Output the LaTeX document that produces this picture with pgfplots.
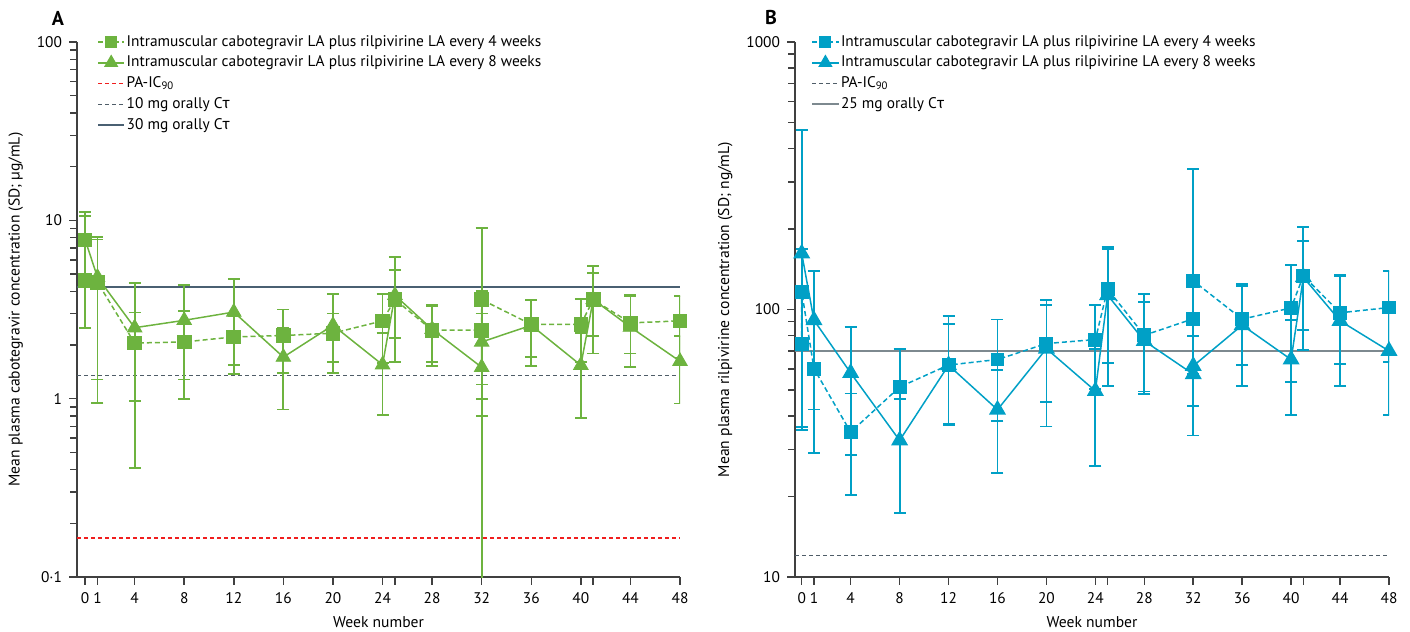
\documentclass[border=0pt]{standalone}
\usepackage{pgfplots}
\usepackage{pgfplotstable}
\pgfplotsset{compat=1.18}
\usepackage{fontspec}
\setmainfont{PT Sans}
\newfontfamily\grk{Fira Sans}
\definecolor{cabgreen}{HTML}{6DB33F}
\definecolor{rilblue}{HTML}{00A0C6}
\definecolor{refslate}{HTML}{4A6072}
\definecolor{refdash}{HTML}{4F5D68}
\definecolor{refgray}{HTML}{7D898F}
\definecolor{refred}{RGB}{240,30,30}
\newcommand{\fs}{\fontsize{7.7}{9}\selectfont}
\newcommand{\fl}{\fontsize{7.8}{9.3}\selectfont}

% Panel A: cabotegravir (ug/mL)
\pgfplotstableread{
x y lo hi
0 4.6 2.5 10.6
1 4.5 1.28 7.8
4 2.05 0.97 3.04
8 2.08 1.0 3.1
12 2.22 1.54 2.9
16 2.26 1.4 3.16
20 2.33 1.61 3.0
24 2.73 1.58 3.88
25 3.6 2.19 5.25
28 2.42 1.52 3.34
32 2.42 0.80 4.0
32 3.59 0.05 9.1
36 2.61 1.71 3.56
40 2.61 1.6 3.64
41 3.59 2.24 5.07
44 2.66 1.5 3.83
48 2.73 1.7 3.77
}\AfourW
\pgfplotstableread{
x y lo hi
0 7.8 4.5 11.1
1 4.8 0.95 8.1
4 2.5 0.41 4.47
8 2.75 1.28 4.32
12 3.06 1.38 4.71
16 1.71 0.87 2.5
20 2.58 1.39 3.88
24 1.55 0.81 2.33
25 3.8 1.61 6.23
28 2.45 1.6 3.3
32 1.5 1.0 2.0
32 2.08 1.2 3.0
36 2.58 1.52 3.56
40 1.54 0.78 2.33
41 3.6 1.79 5.52
44 2.52 1.79 3.75
48 1.62 0.94 2.25
}\AeightW
% Panel B: rilpivirine (ng/mL)
\pgfplotstableread{
x y lo hi
0 74.2 74.2 74.2
0 116.5 35.5 168
1 60.1 29.0 91
4 34.8 20.3 48.5
8 51.3 31.6 71.0
12 62 36.9 88.1
16 65 38.3 91.7
20 74.6 45.1 103.8
24 77.2 50.6 103.8
25 119.2 63.3 171.7
28 80.1 49.4 114.1
32 92.3 92.3 92.3
32 128 33.8 335.5
36 92 62.2 124.4
40 101.4 53.6 146.6
41 133.7 83.7 180.8
44 97.2 62.4 134.5
48 101.7 63.8 139.6
}\BfourW
\pgfplotstableread{
x y lo hi
0 162 36.4 470
1 91.2 42.3 139.6
4 57.9 28.6 86.1
8 32.4 17.4 46.3
12 61.9 37.4 94.4
16 42.2 24.5 59.3
20 71.4 36.5 108.4
24 49.6 26.0 71.4
25 113.2 51.6 168.9
28 76.3 48.2 106.8
32 57.3 57.3 57.3
32 61.5 43.5 79.5
36 87.4 51.6 122.6
40 65.0 40.2 91.2
41 132 70.8 204
44 90.7 51.8 133.3
48 70 40.2 99.8
}\BeightW

\pgfplotsset{
  legend image code/.code={\draw[mark repeat=2,mark phase=2,#1] plot coordinates {(0cm,0cm) (0.23cm,0cm) (0.46cm,0cm)};},
}

\begin{document}
\begin{tikzpicture}
\path[use as bounding box] (0,0) rectangle (705pt,316pt);
\node[font=\bfseries\fontsize{10}{12}\selectfont] at (29pt,307pt) {A};
\node[font=\bfseries\fontsize{10}{12}\selectfont] at (385.5pt,307pt) {B};

\begin{axis}[at={(38.5pt,27.5pt)}, anchor=south west,
  scale only axis, width=301.5pt, height=267.5pt,
  ymode=log,
  axis x line*=bottom, axis y line*=left,
  axis line style={line width=0.8pt, color=black!75},
  tick align=outside, major tick length=4pt, minor tick length=3.5pt,
  tick style={line width=0.75pt, color=black!75},
  xtick={0,1,4,8,12,16,20,24,25,28,32,36,40,41,44,48},
  xticklabels={0,1,4,8,12,16,20,24,,28,32,36,40,,44,48},
  ticklabel style={font=\fs},
  label style={font=\fl},
  xlabel={Week number},
  legend cell align=left,
  legend style={draw=none, fill=none, font=\fs, inner sep=0pt,
    row sep=1.2pt, anchor=north west, at={(0.033,1.018)},
    nodes={inner sep=0.8pt, text height=5.9pt, text depth=1.7pt}},
  xmin=-0.65, xmax=48, ymin=0.1, ymax=100,
  ytick={0.1,1,10,100}, yticklabels={0·1,1,10,100},
  ylabel={Mean plasma cabotegravir concentration (SD; µg/mL)}]
\addlegendimage{cabgreen, line width=0.75pt, dash pattern=on 2.5pt off 1.5pt, mark=square*, mark size=2.6pt, mark options={solid}}
\addlegendentry{Intramuscular cabotegravir LA plus rilpivirine LA every 4 weeks}
\addlegendimage{cabgreen, line width=0.75pt, mark=triangle*, mark size=3.4pt}
\addlegendentry{Intramuscular cabotegravir LA plus rilpivirine LA every 8 weeks}
\addlegendimage{color=refred, draw=refred, line width=0.8pt, dash pattern=on 2pt off 1.5pt}
\addlegendentry{PA-IC\textsubscript{90}}
\addlegendimage{refdash, line width=0.6pt, dash pattern=on 2pt off 1.5pt}
\addlegendentry{10 mg orally C{\grk τ}}
\addlegendimage{refslate, line width=0.75pt}
\addlegendentry{30 mg orally C{\grk τ}}

\addplot[forget plot, color=refred, line width=0.8pt, dash pattern=on 2pt off 1.5pt] coordinates {(-0.65,0.166) (48,0.166)};
\addplot[forget plot, color=refdash, line width=0.6pt, dash pattern=on 2pt off 1.5pt] coordinates {(-0.65,1.35) (48,1.35)};
\addplot[forget plot, color=refslate, line width=0.75pt] coordinates {(-0.65,4.22) (48,4.22)};

\addplot[forget plot, cabgreen, line width=0.75pt] table[x=x,y=y] {\AeightW};
\addplot[forget plot, cabgreen, only marks, mark=triangle*, mark size=4.2pt, skip coords between index={0}{1},
  error bars/.cd, y dir=both, y explicit, error bar style={line width=0.9pt, solid}, error mark options={rotate=90, line width=0.9pt, mark size=3pt, solid}]
  table[x=x, y=y, y error plus expr=\thisrow{hi}-\thisrow{y}, y error minus expr=\thisrow{y}-\thisrow{lo}] {\AeightW};
\addplot[forget plot, cabgreen, only marks, mark=square*, mark size=3.3pt, skip coords between index={1}{50},
  error bars/.cd, y dir=both, y explicit, error bar style={line width=0.9pt, solid}, error mark options={rotate=90, line width=0.9pt, mark size=3pt, solid}]
  table[x=x, y=y, y error plus expr=\thisrow{hi}-\thisrow{y}, y error minus expr=\thisrow{y}-\thisrow{lo}] {\AeightW};
\addplot[forget plot, cabgreen, line width=0.75pt, dash pattern=on 2.5pt off 1.5pt, mark=square*, mark size=3.3pt, mark options={solid},
  error bars/.cd, y dir=both, y explicit, error bar style={line width=0.9pt, solid}, error mark options={rotate=90, line width=0.9pt, mark size=3pt, solid}]
  table[x=x, y=y, y error plus expr=\thisrow{hi}-\thisrow{y}, y error minus expr=\thisrow{y}-\thisrow{lo}] {\AfourW};
\end{axis}

\begin{axis}[at={(397.5pt,27.5pt)}, anchor=south west,
  scale only axis, width=297pt, height=267.5pt,
  ymode=log,
  axis x line*=bottom, axis y line*=left,
  axis line style={line width=0.8pt, color=black!75},
  tick align=outside, major tick length=4pt, minor tick length=3.5pt,
  tick style={line width=0.75pt, color=black!75},
  xtick={0,1,4,8,12,16,20,24,25,28,32,36,40,41,44,48},
  xticklabels={0,1,4,8,12,16,20,24,,28,32,36,40,,44,48},
  ticklabel style={font=\fs},
  label style={font=\fl},
  xlabel={Week number},
  legend cell align=left,
  legend style={draw=none, fill=none, font=\fs, inner sep=0pt,
    row sep=1.2pt, anchor=north west, at={(0.027,1.018)},
    nodes={inner sep=0.8pt, text height=5.9pt, text depth=1.7pt}},
  xmin=-0.55, xmax=48, ymin=10, ymax=1000,
  ytick={10,100,1000}, yticklabels={10,100,1000},
  ylabel={Mean plasma rilpivirine concentration (SD; ng/mL)}]
\addlegendimage{rilblue, line width=0.75pt, dash pattern=on 2.5pt off 1.5pt, mark=square*, mark size=2.6pt, mark options={solid}}
\addlegendentry{Intramuscular cabotegravir LA plus rilpivirine LA every 4 weeks}
\addlegendimage{rilblue, line width=0.75pt, mark=triangle*, mark size=3.4pt}
\addlegendentry{Intramuscular cabotegravir LA plus rilpivirine LA every 8 weeks}
\addlegendimage{refdash, line width=0.6pt, dash pattern=on 2pt off 1.5pt}
\addlegendentry{PA-IC\textsubscript{90}}
\addlegendimage{refgray, line width=0.9pt}
\addlegendentry{25 mg orally C{\grk τ}}

\addplot[forget plot, color=refdash, line width=0.6pt, dash pattern=on 2pt off 1.5pt] coordinates {(-0.55,12) (48,12)};
\addplot[forget plot, color=refgray, line width=0.9pt] coordinates {(-0.55,70) (48,70)};

\addplot[forget plot, rilblue, line width=0.75pt, mark=triangle*, mark size=4.2pt,
  error bars/.cd, y dir=both, y explicit, error bar style={line width=0.9pt, solid}, error mark options={rotate=90, line width=0.9pt, mark size=3pt, solid}]
  table[x=x, y=y, y error plus expr=\thisrow{hi}-\thisrow{y}, y error minus expr=\thisrow{y}-\thisrow{lo}] {\BeightW};
\addplot[forget plot, rilblue, line width=0.75pt, dash pattern=on 2.5pt off 1.5pt, mark=square*, mark size=3.1pt, mark options={solid},
  error bars/.cd, y dir=both, y explicit, error bar style={line width=0.9pt, solid}, error mark options={rotate=90, line width=0.9pt, mark size=3pt, solid}]
  table[x=x, y=y, y error plus expr=\thisrow{hi}-\thisrow{y}, y error minus expr=\thisrow{y}-\thisrow{lo}] {\BfourW};
\end{axis}
\end{tikzpicture}
\end{document}
